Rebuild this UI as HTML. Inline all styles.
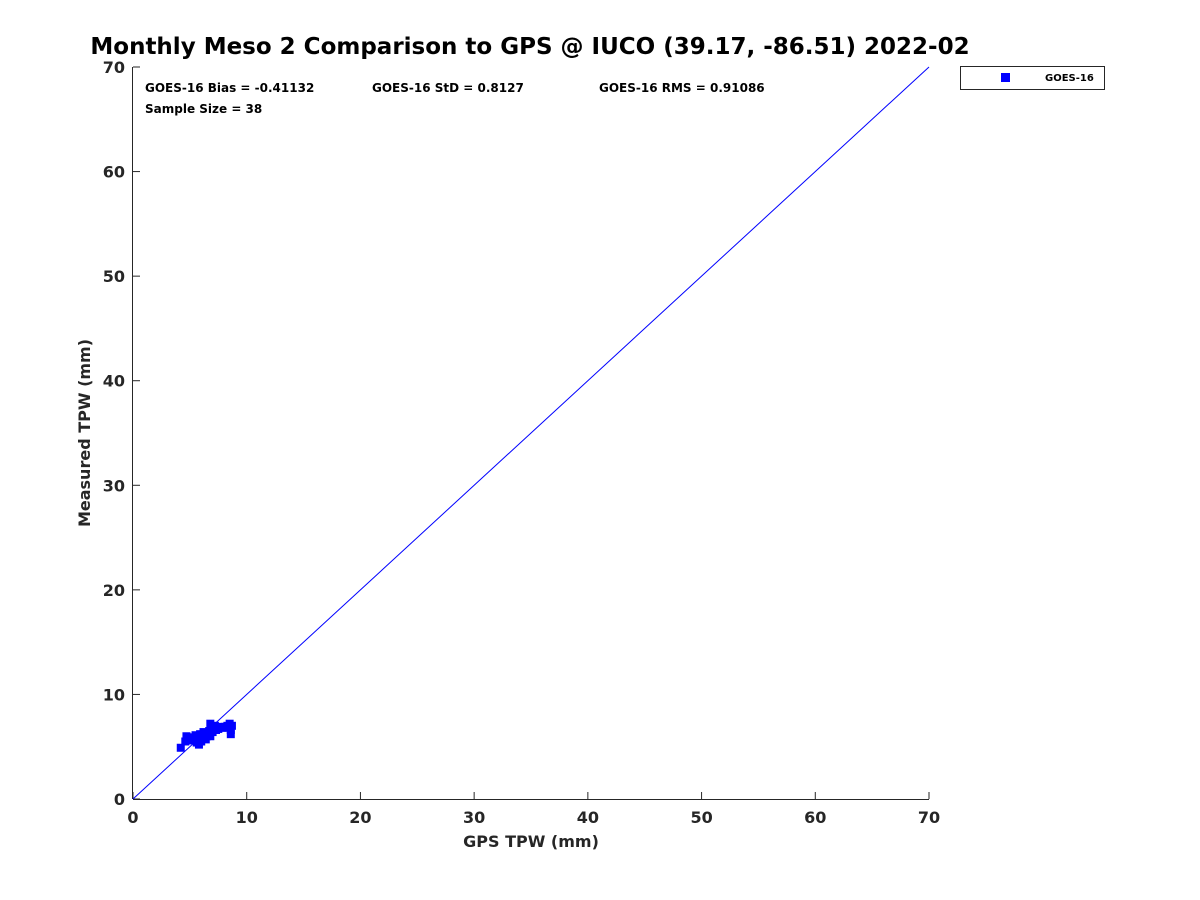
<!DOCTYPE html>
<html><head><meta charset="utf-8"><style>
body{margin:0;background:#fff;}
svg{display:block;font-family:"DejaVu Sans","Liberation Sans",sans-serif;}
</style></head><body>
<svg id="chart" width="1200" height="900">
<text x="530" y="54" text-anchor="middle" font-size="23" font-weight="bold" fill="#000">Monthly Meso 2 Comparison to GPS @ IUCO (39.17, -86.51) 2022-02</text>
<g font-size="12" font-weight="bold" fill="#000">
<text x="145" y="92">GOES-16 Bias = -0.41132</text>
<text x="372" y="92">GOES-16 StD = 0.8127</text>
<text x="599" y="92">GOES-16 RMS = 0.91086</text>
<text x="145" y="113">Sample Size = 38</text>
</g>
<g id="axes"></g>
<g id="marks"></g>
<text x="531" y="847" text-anchor="middle" font-size="16" font-weight="bold" fill="#262626">GPS TPW (mm)</text>
<text transform="translate(90,433) rotate(-90)" text-anchor="middle" font-size="16" font-weight="bold" fill="#262626">Measured TPW (mm)</text>
<g>
<rect x="960.5" y="66.5" width="144" height="23" fill="#fff" stroke="#262626" stroke-width="1"/>
<rect x="1001" y="73" width="9" height="9" fill="#0000ff"/>
<text x="1045" y="81" font-size="10" font-weight="bold" fill="#000">GOES-16</text>
</g>
</svg>
<script>
const xTicks=[0,10,20,30,40,50,60,70];
const yTicks=[0,10,20,30,40,50,60,70];
const gpsValues=[4.2,4.6,4.7,5.0,5.3,5.5,5.7,5.8,5.9,6.0,6.1,6.2,6.3,6.4,6.5,6.6,6.7,6.8,6.9,7.0,7.1,7.3,7.5,7.7,7.9,8.1,8.3,8.5,8.6,8.6,8.7,5.1,5.6,6.2,6.8,7.2,4.9,6.0];
const measValues=[4.9,5.5,6.0,5.6,5.8,6.1,5.9,5.2,6.2,5.5,5.8,6.0,6.2,5.7,6.0,6.3,6.5,7.2,6.6,6.4,6.8,6.6,6.7,6.9,6.8,6.9,7.0,7.2,6.2,6.6,7.0,5.9,5.4,6.4,6.0,7.0,5.7,6.0];
const X0=133,X1=929,Y0=799,Y1=67,MIN=0,MAX=70;
const sx=v=>X0+(v-MIN)/(MAX-MIN)*(X1-X0);
const sy=v=>Y0-(v-MIN)/(MAX-MIN)*(Y0-Y1);
const NS="http://www.w3.org/2000/svg";
const axes=document.getElementById('axes'),marks=document.getElementById('marks');
function mk(tag,attrs,parent){const e=document.createElementNS(NS,tag);for(const k in attrs)e.setAttribute(k,attrs[k]);parent.appendChild(e);return e;}
let l=mk('line',{x1:X0,y1:Y0+0.5,x2:X1,y2:Y0+0.5,stroke:'#262626'},axes);


l=mk('line',{x1:X0-0.5,y1:Y0,x2:X0-0.5,y2:Y1,stroke:'#262626'},axes);


xTicks.forEach(v=>{
 const t=mk('line',{x1:sx(v),y1:Y0,x2:sx(v),y2:Y0-7,stroke:'#262626'},axes);
 
 
 const tx=mk('text',{x:sx(v),y:Y0+24,'text-anchor':'middle','font-size':16,'font-weight':'bold',fill:'#262626'},axes);
 tx.textContent=v;
 
 
});
yTicks.forEach(v=>{
 const t=mk('line',{x1:X0,y1:sy(v),x2:X0+7,y2:sy(v),stroke:'#262626'},axes);
 
 
 const tx=mk('text',{x:X0-8,y:sy(v)+6,'text-anchor':'end','font-size':16,'font-weight':'bold',fill:'#262626'},axes);
 tx.textContent=v;
 
 
});
const ref=mk('line',{x1:sx(MIN),y1:sy(MIN),x2:sx(MAX),y2:sy(MAX),stroke:'#0000ff','stroke-width':1},marks);


gpsValues.forEach((g,i)=>{
 const p=mk('rect',{x:sx(g)-4,y:sy(measValues[i])-4,width:8,height:8,fill:'#0000ff'},marks);
 
 
});
</script>
</body></html>
